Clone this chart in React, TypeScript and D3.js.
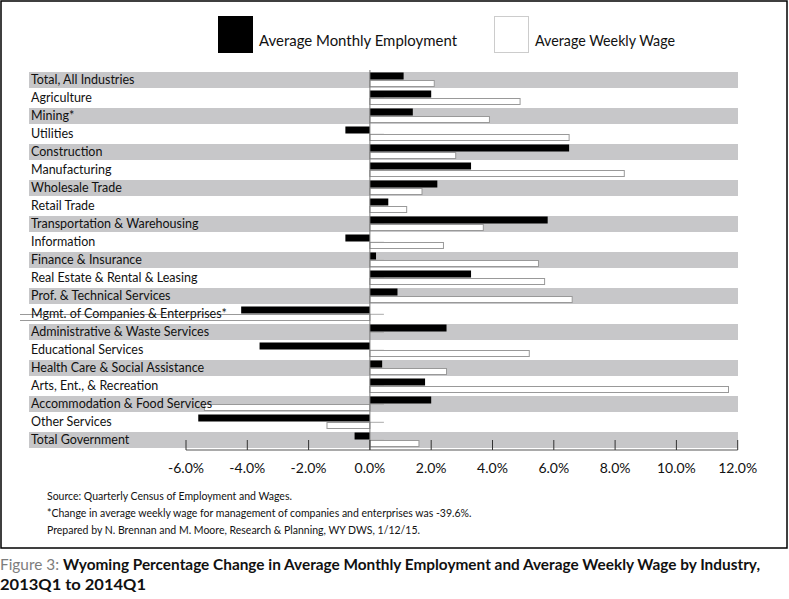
import React from "react";
import * as d3 from "d3";

const categories = [
  "Total, All Industries",
  "Agriculture",
  "Mining*",
  "Utilities",
  "Construction",
  "Manufacturing",
  "Wholesale Trade",
  "Retail Trade",
  "Transportation & Warehousing",
  "Information",
  "Finance & Insurance",
  "Real Estate & Rental & Leasing",
  "Prof. & Technical Services",
  "Mgmt. of Companies & Enterprises*",
  "Administrative & Waste Services",
  "Educational Services",
  "Health Care & Social Assistance",
  "Arts, Ent., & Recreation",
  "Accommodation & Food Services",
  "Other Services",
  "Total Government",
];

const employment = [1.1, 2.0, 1.4, -0.8, 6.5, 3.3, 2.2, 0.6, 5.8, -0.8, 0.2, 3.3, 0.9, -4.2, 2.5, -3.6, 0.4, 1.8, 2.0, -5.6, -0.5];
const wage = [2.1, 4.9, 3.9, 6.5, 2.8, 8.3, 1.7, 1.2, 3.7, 2.4, 5.5, 5.7, 6.6, -39.6, 0.0, 5.2, 2.5, 11.7, -5.4, -1.4, 1.6];

const xTicks = [-6, -4, -2, 0, 2, 4, 6, 8, 10, 12];

const seriesNames = ["Average Monthly Employment", "Average Weekly Wage"];

const footnotes = [
  "Source: Quarterly Census of Employment and Wages.",
  "*Change in average weekly wage for management of companies and enterprises was -39.6%.",
  "Prepared by N. Brennan and M. Moore, Research & Planning, WY DWS, 1/12/15.",
];

const FONT = "Lato, 'Open Sans', sans-serif";

export default function App() {
  const W = 789;
  const H = 599;
  const x = d3.scaleLinear().domain([-6, 12]).range([186, 737.7]);
  const y = d3
    .scaleBand<string>()
    .domain(categories)
    .range([72, 450])
    .paddingInner(0)
    .paddingOuter(0);
  const rowH = y.bandwidth();
  const clipLeft = 20;
  const x0 = x(0);
  const xc = (v: number) => Math.max(clipLeft - 5, x(v));

  return (
    <svg
      width={W}
      height={H}
      viewBox={`0 0 ${W} ${H}`}
      style={{ position: "absolute", left: 0, top: 0, background: "#fff" }}
      fontFamily={FONT}
    >
      <defs>
        <clipPath id="plotClip">
          <rect x={clipLeft} y={60} width={750} height={400} />
        </clipPath>
      </defs>
      <rect x={0} y={0} width={W} height={H} fill="#fff" />
      {/* outer frame */}
      <rect x={1} y={1} width={786} height={547} fill="none" stroke="#000" strokeWidth={1.5} />

      {/* legend */}
      <rect x={218} y={16} width={35} height={37} fill="#000" />
      <text x={259} y={46} fontSize={15} fill="#111" textLength={198} lengthAdjust="spacingAndGlyphs">
        {seriesNames[0]}
      </text>
      <rect x={494.5} y={16.5} width={34} height={36} fill="#fff" stroke="#ccc" strokeWidth={1} />
      <text x={535} y={46} fontSize={15} fill="#111" textLength={140} lengthAdjust="spacingAndGlyphs">
        {seriesNames[1]}
      </text>

      {/* bands */}
      {categories.map((c, i) =>
        i % 2 === 0 ? (
          <rect key={"b" + i} x={29} y={y(c)!} width={738 - 29} height={rowH - 2} fill="#c7c7c9" />
        ) : null
      )}

      {/* category ticks */}
      {categories.map((c, i) => (
        <line key={"ct" + i} x1={x0} x2={x0 + 14} y1={y(c)! + 8.3} y2={y(c)! + 8.3} stroke="#aaa" strokeWidth={1} />
      ))}

      <g clipPath="url(#plotClip)">
        {/* wage bars */}
        {categories.map((c, i) => {
          const v = wage[i];
          const a = Math.min(xc(v), x0);
          const b = Math.max(xc(v), x0);
          if (b - a < 0.5) return null;
          return (
            <rect
              key={"w" + i}
              x={a}
              y={y(c)! + 8.5}
              width={b - a}
              height={6}
              fill="#fff"
              stroke="#999"
              strokeWidth={1}
            />
          );
        })}

        {/* employment bars */}
        {categories.map((c, i) => {
          const v = employment[i];
          const a = Math.min(xc(v), x0);
          const b = Math.max(xc(v), x0);
          return <rect key={"e" + i} x={a} y={y(c)! + 0.5} width={b - a} height={7} fill="#000" />;
        })}
      </g>

      {/* zero axis */}
      <line x1={x0} x2={x0} y1={70} y2={450} stroke="#777" strokeWidth={1} />

      {/* labels */}
      {categories.map((c) => (
        <text key={"l" + c} x={31} y={y(c)! + 12.3} fontSize={12.5} fill="#111">
          {c}
        </text>
      ))}

      {/* x axis */}
      <line x1={x(-6)} x2={x(12)} y1={450} y2={450} stroke="#555" strokeWidth={1} />
      {xTicks.map((t) => (
        <g key={"t" + t}>
          <line x1={x(t)} x2={x(t)} y1={440} y2={450} stroke="#333" strokeWidth={1} />
          <text x={x(t)} y={473} fontSize={14} textAnchor="middle" fill="#111">
            {t.toFixed(1) + "%"}
          </text>
        </g>
      ))}

      {/* footnotes */}
      {footnotes.map((f, i) => (
        <text key={"f" + i} x={47} y={500 + i * 17} fontSize={10.5} fill="#111">
          {f}
        </text>
      ))}

      {/* caption */}
      <text x={0} y={570} fontSize={15.5} fontWeight="bold" fill="#111" textLength={760} lengthAdjust="spacingAndGlyphs">
        <tspan fill="#7d7d7d" fontWeight="normal">Figure 3: </tspan>
        <tspan>Wyoming Percentage Change in Average Monthly Employment and Average Weekly Wage by Industry,</tspan>
      </text>
      <text x={0} y={590} fontSize={15.5} fontWeight="bold" fill="#111" textLength={146} lengthAdjust="spacingAndGlyphs">
        2013Q1 to 2014Q1
      </text>
    </svg>
  );
}
